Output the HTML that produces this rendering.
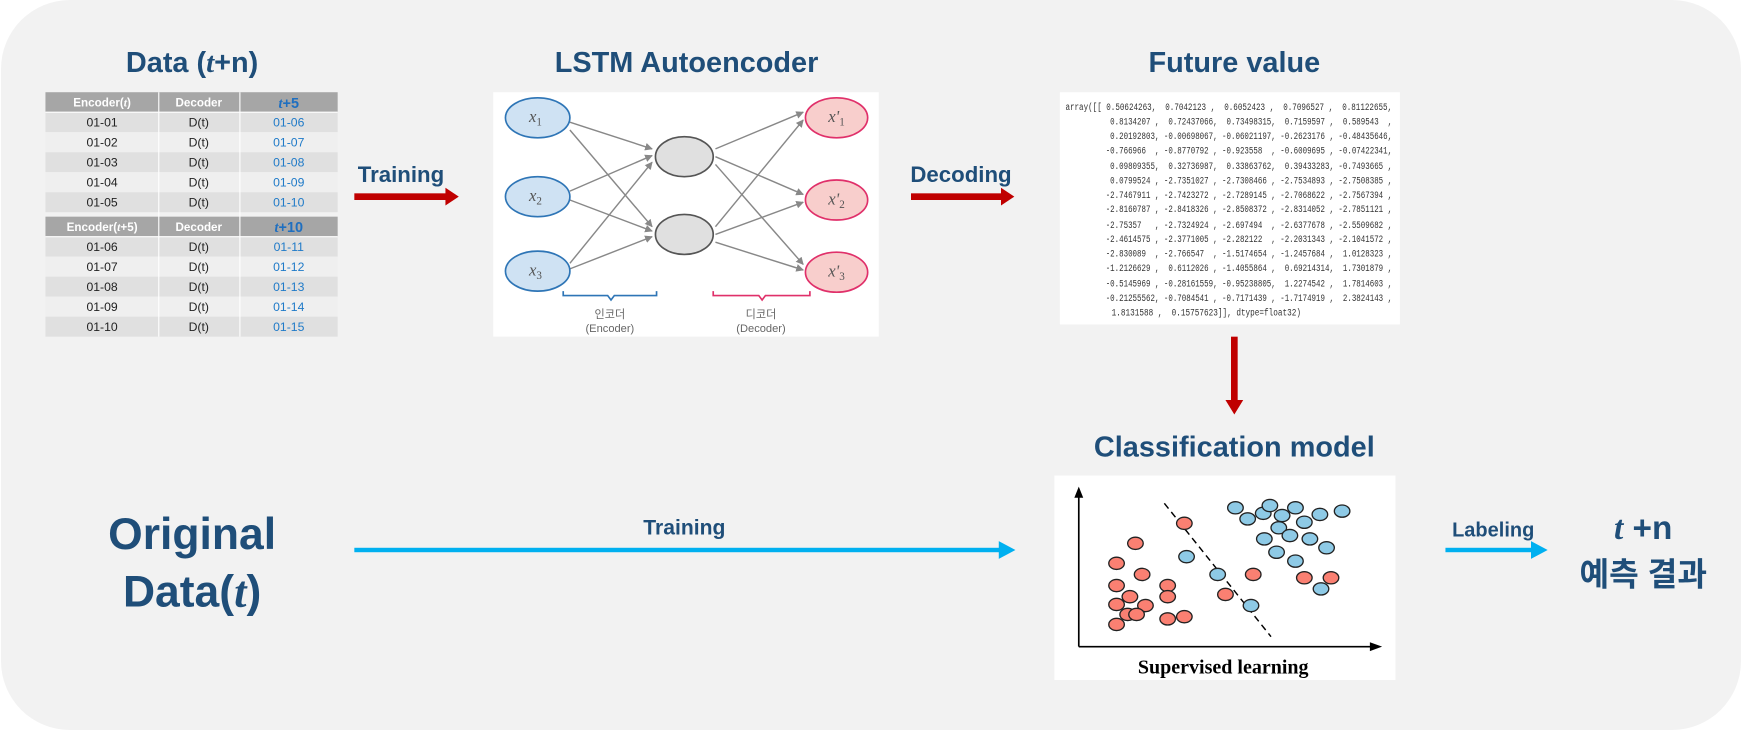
<!DOCTYPE html>
<html><head><meta charset="utf-8"><style>html,body{margin:0;padding:0;background:#fff}svg{display:block}.pre{white-space:pre}</style></head>
<body>
<svg width="1742" height="730" viewBox="0 0 1566 657" xmlns="http://www.w3.org/2000/svg" font-family="'Liberation Sans','Noto Sans CJK KR',sans-serif">
<defs>
<marker id="ar" viewBox="0 0 10 10" refX="9" refY="5" markerWidth="7" markerHeight="7" orient="auto" markerUnits="userSpaceOnUse"><path d="M0,0 L10,5 L0,10 z" fill="#888"/></marker>
</defs>
<rect x="0" y="0" width="1566" height="657" rx="62" fill="#f2f2f2"/>
<g fill="#1f4e79" font-weight="bold" text-anchor="middle">
<text x="172" y="65" font-size="26">Data (<tspan font-family="'Liberation Serif',serif" font-style="italic">t</tspan>+n)</text>
<text x="617" y="65" font-size="26">LSTM Autoencoder</text>
<text x="1110" y="65" font-size="26">Future value</text>
<text x="1110" y="411" font-size="26">Classification model</text>
<text x="172" y="494" font-size="40">Original</text>
<text x="172" y="546" font-size="40">Data(<tspan font-family="'Liberation Serif',serif" font-style="italic">t</tspan>)</text>
<text x="1478" y="485" font-size="30"><tspan font-family="'Liberation Serif',serif" font-style="italic">t</tspan> +n</text>
<text x="1478" y="527" font-size="29">예측 결과</text>
<text x="360" y="164" font-size="20">Training</text>
<text x="864" y="164" font-size="20">Decoding</text>
<text x="615" y="481" font-size="19">Training</text>
<text x="1343" y="483" font-size="18">Labeling</text>
</g>
<g>
<rect x="318" y="174" width="84" height="6" fill="#c00000"/><path d="M400,169 L412,177 L400,185z" fill="#c00000"/>
<rect x="819" y="174" width="83" height="6" fill="#c00000"/><path d="M900,169 L912,177 L900,185z" fill="#c00000"/>
<rect x="1107" y="303" width="6" height="60" fill="#c00000"/><path d="M1102,360 L1110,373 L1118,360z" fill="#c00000"/>
<rect x="318" y="493" width="584" height="4" fill="#00b0f0"/><path d="M898,487 L913,495 L898,503z" fill="#00b0f0"/>
<rect x="1300" y="493" width="80" height="4" fill="#00b0f0"/><path d="M1377,487 L1392,495 L1377,503z" fill="#00b0f0"/>
</g>
<g font-size="11" text-anchor="middle">
<rect x="40" y="83" width="263" height="18" fill="#a6a6a6"/>
<rect x="40" y="101" width="263" height="18" fill="#e0e0e0"/>
<rect x="40" y="119" width="263" height="18" fill="#efefef"/>
<rect x="40" y="137" width="263" height="18" fill="#e0e0e0"/>
<rect x="40" y="155" width="263" height="18" fill="#efefef"/>
<rect x="40" y="173" width="263" height="18" fill="#e0e0e0"/>
<rect x="40" y="195" width="263" height="18" fill="#a6a6a6"/>
<rect x="40" y="213" width="263" height="18" fill="#e0e0e0"/>
<rect x="40" y="231" width="263" height="18" fill="#efefef"/>
<rect x="40" y="249" width="263" height="18" fill="#e0e0e0"/>
<rect x="40" y="267" width="263" height="18" fill="#efefef"/>
<rect x="40" y="285" width="263" height="18" fill="#e0e0e0"/>
<g stroke="#fff" stroke-width="1"><line x1="142" y1="83" x2="142" y2="303"/><line x1="215" y1="83" x2="215" y2="303"/>
<line x1="40" y1="101" x2="303" y2="101"/><line x1="40" y1="213" x2="303" y2="213"/></g>
<g fill="#fff" font-weight="bold" font-size="10.5"><text x="91" y="96">Encoder(<tspan font-style="italic" font-family="'Liberation Serif',serif">t</tspan>)</text><text x="178" y="96">Decoder</text>
<text x="91" y="208">Encoder(<tspan font-style="italic" font-family="'Liberation Serif',serif">t</tspan>+5)</text><text x="178" y="208">Decoder</text></g>
<g fill="#1f6fc0" font-weight="bold" font-size="13"><text x="259" y="97"><tspan font-style="italic" font-family="'Liberation Serif',serif">t</tspan>+5</text><text x="259" y="209"><tspan font-style="italic" font-family="'Liberation Serif',serif">t</tspan>+10</text></g>
<g fill="#222"><text x="91" y="114">01-01</text><text x="91" y="132">01-02</text><text x="91" y="150">01-03</text><text x="91" y="168">01-04</text><text x="91" y="186">01-05</text>
<text x="91" y="226">01-06</text><text x="91" y="244">01-07</text><text x="91" y="262">01-08</text><text x="91" y="280">01-09</text><text x="91" y="298">01-10</text>
<text x="178" y="114">D(t)</text><text x="178" y="132">D(t)</text><text x="178" y="150">D(t)</text><text x="178" y="168">D(t)</text><text x="178" y="186">D(t)</text>
<text x="178" y="226">D(t)</text><text x="178" y="244">D(t)</text><text x="178" y="262">D(t)</text><text x="178" y="280">D(t)</text><text x="178" y="298">D(t)</text></g>
<g fill="#1f7ac8"><text x="259" y="114">01-06</text><text x="259" y="132">01-07</text><text x="259" y="150">01-08</text><text x="259" y="168">01-09</text><text x="259" y="186">01-10</text>
<text x="259" y="226">01-11</text><text x="259" y="244">01-12</text><text x="259" y="262">01-13</text><text x="259" y="280">01-14</text><text x="259" y="298">01-15</text></g>
</g>
<!-- LSTM -->
<rect x="443" y="83" width="347" height="220" fill="#fff"/>
<g stroke="#888" stroke-width="1.3" marker-end="url(#ar)">
<line x1="512" y1="110" x2="586" y2="134"/><line x1="512" y1="117" x2="586" y2="204"/>
<line x1="512" y1="172" x2="586" y2="140"/><line x1="512" y1="180" x2="586" y2="208"/>
<line x1="512" y1="237" x2="586" y2="146"/><line x1="512" y1="242" x2="586" y2="213"/>
<line x1="643" y1="134" x2="722" y2="101"/><line x1="643" y1="141" x2="722" y2="175"/><line x1="643" y1="148" x2="722" y2="238"/>
<line x1="643" y1="204" x2="722" y2="108"/><line x1="643" y1="211" x2="722" y2="182"/><line x1="643" y1="218" x2="722" y2="243"/>
</g>
<g stroke-width="1.5">
<ellipse cx="483" cy="106" rx="29" ry="18" fill="#cfe2f3" stroke="#2e75b6"/>
<ellipse cx="483" cy="177" rx="29" ry="18" fill="#cfe2f3" stroke="#2e75b6"/>
<ellipse cx="483" cy="244" rx="29" ry="18" fill="#cfe2f3" stroke="#2e75b6"/>
<ellipse cx="615" cy="141" rx="26" ry="18" fill="#e0e0e0" stroke="#555"/>
<ellipse cx="615" cy="211" rx="26" ry="18" fill="#e0e0e0" stroke="#555"/>
<ellipse cx="752" cy="106" rx="28" ry="18" fill="#f8cecc" stroke="#e0306a"/>
<ellipse cx="752" cy="180" rx="28" ry="18" fill="#f8cecc" stroke="#e0306a"/>
<ellipse cx="752" cy="245" rx="28" ry="18" fill="#f8cecc" stroke="#e0306a"/>
</g>
<g font-family="'Liberation Serif',serif" font-style="italic" font-size="15" fill="#555" text-anchor="middle">
<text x="481" y="110">x<tspan font-size="10" font-style="normal" dy="3">1</tspan></text>
<text x="481" y="181">x<tspan font-size="10" font-style="normal" dy="3">2</tspan></text>
<text x="481" y="248">x<tspan font-size="10" font-style="normal" dy="3">3</tspan></text>
<text x="752" y="110">x'<tspan font-size="10" font-style="normal" dy="3">1</tspan></text>
<text x="752" y="184">x'<tspan font-size="10" font-style="normal" dy="3">2</tspan></text>
<text x="752" y="249">x'<tspan font-size="10" font-style="normal" dy="3">3</tspan></text>
</g>
<path d="M506,262 v4 h40 l3,4 l3,-4 h38 v-4" fill="none" stroke="#2e75b6" stroke-width="1.5"/>
<path d="M641,262 v4 h41 l3,4 l3,-4 h40 v-4" fill="none" stroke="#e0306a" stroke-width="1.5"/>
<g font-size="10" fill="#666" text-anchor="middle"><text x="548" y="286">인코더</text><text x="548" y="299">(Encoder)</text><text x="684" y="286">디코더</text><text x="684" y="299">(Decoder)</text></g>
<!-- array -->
<rect x="953" y="83" width="306" height="209" fill="#fff"/>
<g font-family="'Liberation Mono',monospace" font-size="8.8" fill="#333" class="pre">
<text class="pre" x="958" y="99" textLength="294" lengthAdjust="spacingAndGlyphs">array([[ 0.50624263,  0.7042123 ,  0.6052423 ,  0.7096527 ,  0.81122655,</text>
<text class="pre" x="958" y="112" textLength="294" lengthAdjust="spacingAndGlyphs">          0.8134207 ,  0.72437066,  0.73498315,  0.7159597 ,  0.589543  ,</text>
<text class="pre" x="958" y="125" textLength="294" lengthAdjust="spacingAndGlyphs">          0.20192803, -0.00698067, -0.06021197, -0.2623176 , -0.48435646,</text>
<text class="pre" x="958" y="138" textLength="294" lengthAdjust="spacingAndGlyphs">         -0.766966  , -0.8770792 , -0.923558  , -0.6009695 , -0.07422341,</text>
<text class="pre" x="958" y="152" textLength="294" lengthAdjust="spacingAndGlyphs">          0.09809355,  0.32736987,  0.33863762,  0.39433283, -0.7493665 ,</text>
<text class="pre" x="958" y="165" textLength="294" lengthAdjust="spacingAndGlyphs">          0.0799524 , -2.7351027 , -2.7308466 , -2.7534893 , -2.7508385 ,</text>
<text class="pre" x="958" y="178" textLength="294" lengthAdjust="spacingAndGlyphs">         -2.7467911 , -2.7423272 , -2.7289145 , -2.7068622 , -2.7567394 ,</text>
<text class="pre" x="958" y="191" textLength="294" lengthAdjust="spacingAndGlyphs">         -2.8160787 , -2.8418326 , -2.8508372 , -2.8314052 , -2.7851121 ,</text>
<text class="pre" x="958" y="205" textLength="294" lengthAdjust="spacingAndGlyphs">         -2.75357   , -2.7324924 , -2.697494  , -2.6377678 , -2.5509682 ,</text>
<text class="pre" x="958" y="218" textLength="294" lengthAdjust="spacingAndGlyphs">         -2.4614575 , -2.3771005 , -2.282122  , -2.2031343 , -2.1041572 ,</text>
<text class="pre" x="958" y="231" textLength="294" lengthAdjust="spacingAndGlyphs">         -2.830089  , -2.766547  , -1.5174654 , -1.2457684 ,  1.0128323 ,</text>
<text class="pre" x="958" y="244" textLength="294" lengthAdjust="spacingAndGlyphs">         -1.2126629 ,  0.6112026 , -1.4055864 ,  0.69214314,  1.7301879 ,</text>
<text class="pre" x="958" y="258" textLength="294" lengthAdjust="spacingAndGlyphs">         -0.5145969 , -0.28161559, -0.95238805,  1.2274542 ,  1.7814603 ,</text>
<text class="pre" x="958" y="271" textLength="294" lengthAdjust="spacingAndGlyphs">         -0.21255562, -0.7084541 , -0.7171439 , -1.7174919 ,  2.3824143 ,</text>
<text class="pre" x="958" y="284" textLength="212" lengthAdjust="spacingAndGlyphs">          1.8131588 ,  0.15757623]], dtype=float32)</text>
</g>
<!-- scatter -->
<rect x="948" y="428" width="307" height="184" fill="#fff"/>
<g stroke="#000" stroke-width="1.5"><line x1="970" y1="582" x2="970" y2="446"/><line x1="970" y1="582" x2="1234" y2="582"/></g>
<path d="M966,448 L970,438 L974,448z M1232,578 L1243,582 L1232,586z"/>
<line x1="1047" y1="453" x2="1143" y2="573" stroke="#000" stroke-width="1.3" stroke-dasharray="6,4"/>
<g stroke="#222" stroke-width="1.2" fill="#fa8072">
<ellipse cx="1065" cy="471" rx="7" ry="5.5"/><ellipse cx="1021" cy="489" rx="7" ry="5.5"/><ellipse cx="1004" cy="507" rx="7" ry="5.5"/><ellipse cx="1027" cy="517" rx="7" ry="5.5"/><ellipse cx="1004" cy="527" rx="7" ry="5.5"/><ellipse cx="1050" cy="527" rx="7" ry="5.5"/><ellipse cx="1016" cy="537" rx="7" ry="5.5"/><ellipse cx="1050" cy="537" rx="7" ry="5.5"/><ellipse cx="1004" cy="544" rx="7" ry="5.5"/><ellipse cx="1030" cy="545" rx="7" ry="5.5"/><ellipse cx="1065" cy="555" rx="7" ry="5.5"/><ellipse cx="1014" cy="553" rx="7" ry="5.5"/><ellipse cx="1022" cy="553" rx="7" ry="5.5"/><ellipse cx="1004" cy="562" rx="7" ry="5.5"/><ellipse cx="1050" cy="557" rx="7" ry="5.5"/><ellipse cx="1127" cy="517" rx="7" ry="5.5"/><ellipse cx="1102" cy="535" rx="7" ry="5.5"/><ellipse cx="1173" cy="520" rx="7" ry="5.5"/><ellipse cx="1197" cy="520" rx="7" ry="5.5"/>
</g>
<g stroke="#222" stroke-width="1.2" fill="#8ecae6">
<ellipse cx="1111" cy="457" rx="7" ry="5.5"/><ellipse cx="1122" cy="467" rx="7" ry="5.5"/><ellipse cx="1136" cy="462" rx="7" ry="5.5"/><ellipse cx="1142" cy="455" rx="7" ry="5.5"/><ellipse cx="1153" cy="464" rx="7" ry="5.5"/><ellipse cx="1150" cy="475" rx="7" ry="5.5"/><ellipse cx="1165" cy="457" rx="7" ry="5.5"/><ellipse cx="1173" cy="470" rx="7" ry="5.5"/><ellipse cx="1187" cy="463" rx="7" ry="5.5"/><ellipse cx="1207" cy="460" rx="7" ry="5.5"/><ellipse cx="1137" cy="485" rx="7" ry="5.5"/><ellipse cx="1160" cy="482" rx="7" ry="5.5"/><ellipse cx="1178" cy="485" rx="7" ry="5.5"/><ellipse cx="1193" cy="493" rx="7" ry="5.5"/><ellipse cx="1148" cy="497" rx="7" ry="5.5"/><ellipse cx="1067" cy="501" rx="7" ry="5.5"/><ellipse cx="1095" cy="517" rx="7" ry="5.5"/><ellipse cx="1165" cy="505" rx="7" ry="5.5"/><ellipse cx="1125" cy="545" rx="7" ry="5.5"/><ellipse cx="1188" cy="530" rx="7" ry="5.5"/>
</g>
<text x="1100" y="606" text-anchor="middle" font-family="'Liberation Serif',serif" font-weight="bold" font-size="18" fill="#000">Supervised learning</text>
</svg>
</body></html>
